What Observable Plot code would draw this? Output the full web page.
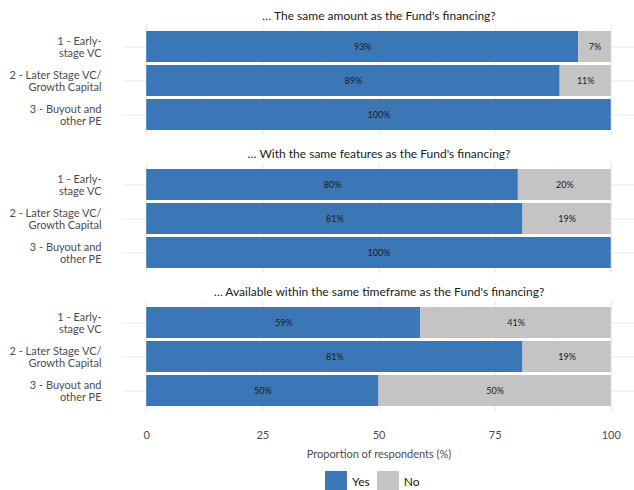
<!DOCTYPE html>
<html><head><meta charset="utf-8">
<script src="https://cdn.jsdelivr.net/npm/d3@7"></script>
<script src="https://cdn.jsdelivr.net/npm/@observablehq/plot@0.6"></script>
<style>
body{margin:0;background:#fff;font-family:Lato,sans-serif;}
#chart{width:634px;height:490px;position:relative;overflow:hidden;background:#fff}
#legend{position:absolute;left:325px;top:465px;}
#legend svg{margin-right:5px !important;}
#legend span{margin-right:7px !important;}
</style></head><body><div id="chart"><div id="legend"></div></div>
<script>
const questions = [
  "… The same amount as the Fund's financing?",
  "… With the same features as the Fund's financing?",
  "… Available within the same timeframe as the Fund's financing?"
];
const categories = [
  "1 - Early-\nstage VC",
  "2 - Later Stage VC/\nGrowth Capital",
  "3 - Buyout and\nother PE"
];
const answers = ["Yes", "No"];
const colors = ["#3b77b6", "#c4c4c4"];
const yesValues = [[93, 89, 100], [80, 81, 100], [59, 81, 50]];
const noValues = [[7, 11, 0], [20, 19, 0], [41, 19, 50]];
const majorTicks = [0, 25, 50, 75, 100];
const minorTicks = [12.5, 37.5, 62.5, 87.5];
const axisTitle = "Proportion of respondents (%)";

const rows = [];
questions.forEach((q, qi) => categories.forEach((c, ci) => {
  rows.push({q, cat: c, answer: "Yes", value: yesValues[qi][ci]});
  rows.push({q, cat: c, answer: "No", value: noValues[qi][ci]});
}));

const plot = Plot.plot({
  width: 634, height: 465,
  marginTop: 25, marginBottom: 54, marginLeft: 123, marginRight: 0,
  style: {fontFamily: "Lato, sans-serif", fontSize: "11px", color: "#4d4d4d", background: "#fff", overflow: "visible"},
  x: {domain: [-5, 105], axis: null},
  y: {domain: categories, paddingInner: 0.1, paddingOuter: 0.15, axis: null},
  fy: {domain: questions, paddingInner: 0.204, paddingOuter: 0, axis: null},
  color: {domain: answers, range: colors},
  marks: [
    Plot.gridX(minorTicks, {stroke: "#f3f3f3", strokeOpacity: 1}),
    Plot.gridX(majorTicks, {stroke: "#e6e6e6", strokeOpacity: 1}),
    Plot.gridY({stroke: "#e6e6e6", strokeOpacity: 1}),
    Plot.barX(rows, {x: "value", y: "cat", fy: "q", fill: "answer"}),
    Plot.text(rows.filter(d => d.value > 0), Plot.stackX({
      x: "value", y: "cat", fy: "q", z: "answer",
      text: d => d.value + "%", fill: "#1a1a1a", fontSize: 9
    })),
    Plot.text(questions, {fy: d => d, text: d => d, frameAnchor: "top", lineAnchor: "middle", dy: -9, fontSize: 12, fill: "#1a1a1a"}),
    Plot.axisY({tickSize: 0, tickPadding: 22, fontSize: 11, fill: "#4d4d4d", lineHeight: 1.1, label: null}),
    Plot.axisX(majorTicks, {tickSize: 0, tickPadding: 20, fontSize: 11, fill: "#4d4d4d",
      label: axisTitle, labelArrow: "none", labelAnchor: "center", labelOffset: 46})
  ]
});
document.getElementById("chart").prepend(plot);

const legend = Plot.legend({
  color: {domain: answers, range: colors},
  swatchSize: 22,
  style: {fontFamily: "Lato, sans-serif", fontSize: "12px", color: "#1a1a1a"}
});
document.getElementById("legend").append(legend);
</script>
</body></html>
